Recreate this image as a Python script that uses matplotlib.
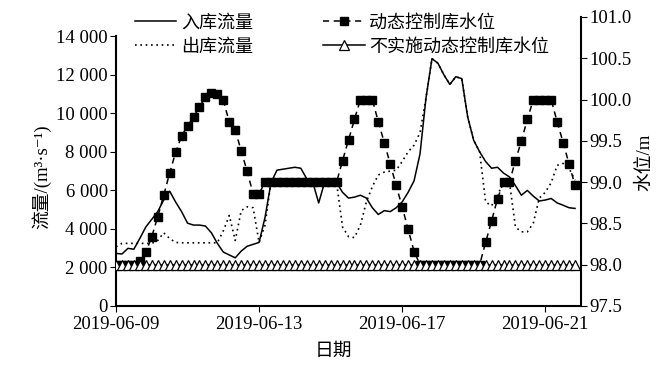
import numpy as np
import pandas as pd
import matplotlib
matplotlib.use("Agg")
import matplotlib.pyplot as plt
import matplotlib.dates as mdates
from matplotlib.ticker import FixedLocator, FuncFormatter

plt.rcParams['font.family'] = ['Liberation Serif', 'Noto Sans CJK SC', 'DejaVu Sans']
plt.rcParams['axes.unicode_minus'] = False

# 4-hourly series, 2019-06-09 00:00 .. 2019-06-21 20:00
times = pd.date_range('2019-06-09', periods=78, freq='4h')

inflow = [2730, 2700, 2990, 2950, 3510, 4100, 4500, 4900, 5500, 5960,
          5400, 4900, 4300, 4200, 4200, 4150, 3800, 3250, 2800, 2650,
          2500, 2850, 3100, 3200, 3300, 4600, 6400, 7050, 7100, 7150,
          7200, 7150, 6600, 6430, 5350, 6430, 6430, 6400, 5900, 5600,
          5650, 5750, 5600, 5100, 4750, 4950, 4900, 5100, 5400, 5900,
          6500, 7900, 10800, 12840, 12600, 12000, 11500, 11900, 11800, 9800,
          8600, 8000, 7500, 7150, 7200, 6900, 6700, 6250, 5750, 6000,
          5700, 5450, 5500, 5580, 5350, 5230, 5100, 5065]

outflow = [3075, 3250, 3250, 3250, 3250, 3250, 3250, 3400, 3800, 3500,
           3300, 3280, 3280, 3280, 3280, 3280, 3280, 3280, 3900, 4700,
           3400, 4950, 5150, 5100, 3300, 4200, 6430, 6430, 6430, 6430,
           6430, 6430, 6430, 6430, 6430, 6430, 6430, 6400, 4100, 3600,
           3550, 4200, 5400, 6200, 6800, 6950, 7000, 7050, 7500, 8000,
           8350, 9000, 10800, 12840, 12600, 12000, 11500, 11900, 11800, 9800,
           8600, 8000, 5400, 5200, 5750, 6430, 6430, 4100, 3850, 3850,
           4300, 5600, 5900, 6400, 7300, 7400, 7140, 6530]

level_dynamic = [98.0, 98.0, 98.0, 98.0, 98.04, 98.15, 98.34, 98.58, 98.84, 99.11,
                 99.36, 99.56, 99.68, 99.79, 99.91, 100.03, 100.08, 100.07, 99.99, 99.73,
                 99.63, 99.38, 99.13, 98.86, 98.86, 99.0, 99.0, 99.0, 99.0, 99.0,
                 99.0, 99.0, 99.0, 99.0, 99.0, 99.0, 99.0, 99.0, 99.26, 99.51,
                 99.76, 100.0, 100.0, 100.0, 99.73, 99.48, 99.22, 98.96, 98.70, 98.43,
                 98.16, 98.0, 98.0, 98.0, 98.0, 98.0, 98.0, 98.0, 98.0, 98.0,
                 98.0, 98.0, 98.27, 98.53, 98.80, 99.0, 99.0, 99.26, 99.50, 99.76,
                 100.0, 100.0, 100.0, 100.0, 99.73, 99.48, 99.22, 98.96]

level_static = [98.0] * 78

flow_ticks = [0, 2000, 4000, 6000, 8000, 10000, 12000, 14000]
level_ticks = [97.5, 98.0, 98.5, 99.0, 99.5, 100.0, 100.5, 101.0]
date_ticks = ['2019-06-09', '2019-06-13', '2019-06-17', '2019-06-21']

fig = plt.figure(figsize=(6.72, 3.70), dpi=100)
ax = fig.add_axes([116 / 672, 1 - 306 / 370, 465 / 672, 289 / 370])
ax2 = ax.twinx()

l1, = ax.plot(times, inflow, color='black', lw=1.1, ls='-')
l2, = ax.plot(times, outflow, color='black', lw=1.2, ls=(0, (1, 2.2)))
l3, = ax2.plot(times, level_dynamic, color='black', lw=1.1, ls=(0, (4, 3)),
               marker='s', markersize=5.2, markerfacecolor='black',
               markeredgecolor='black')
l4, = ax2.plot(times, level_static, color='black', lw=1.1, ls='-',
               marker='^', markersize=7.2, markerfacecolor='white',
               markeredgecolor='black', markeredgewidth=0.9)

ax.set_xlim(pd.Timestamp('2019-06-09'), pd.Timestamp('2019-06-22'))
ax.set_ylim(0, 15000)
ax2.set_ylim(97.5, 101.0)

ax.xaxis.set_major_locator(FixedLocator(mdates.date2num(pd.to_datetime(date_ticks))))
ax.xaxis.set_major_formatter(mdates.DateFormatter('%Y-%m-%d'))
ax.set_yticks(flow_ticks)
ax.yaxis.set_major_formatter(FuncFormatter(lambda v, p: f'{int(v):,}'.replace(',', ' ')))
ax2.set_yticks(level_ticks)
ax2.yaxis.set_major_formatter(FuncFormatter(lambda v, p: f'{v:.1f}'))

for a in (ax, ax2):
    for s in a.spines.values():
        s.set_linewidth(1.5)
    a.spines['top'].set_visible(False)
    a.tick_params(direction='out', length=4.5, width=0.8, labelsize=13.5, pad=1.5)
ax.spines['right'].set_visible(False)
ax2.spines['left'].set_visible(False)
ax2.spines['bottom'].set_visible(False)
ax.spines['left'].set_bounds(0, 14000)
ax.tick_params(axis='x', pad=3)

fig.text(41 / 672, 1 - 177 / 370, '流量/(m³·s⁻¹)', rotation=90, ha='center',
         va='center', fontsize=13.5)
fig.text(645 / 672, 1 - 162 / 370, '水位/m', rotation=90, ha='center',
         va='center', fontsize=13.5)
fig.text(333 / 672, 1 - 351 / 370, '日期', ha='center', va='center', fontsize=13.5)

fig.legend([l1, l2, l3, l4], ['入库流量', '出库流量', '动态控制库水位', '不实施动态控制库水位'],
           loc='upper left', bbox_to_anchor=(124 / 672, 0.99), ncol=2, frameon=False,
           fontsize=13, handlelength=2.3, handletextpad=0.25, columnspacing=3.9,
           labelspacing=0.38, borderaxespad=0.2)

fig.savefig('out.png', dpi=100)
